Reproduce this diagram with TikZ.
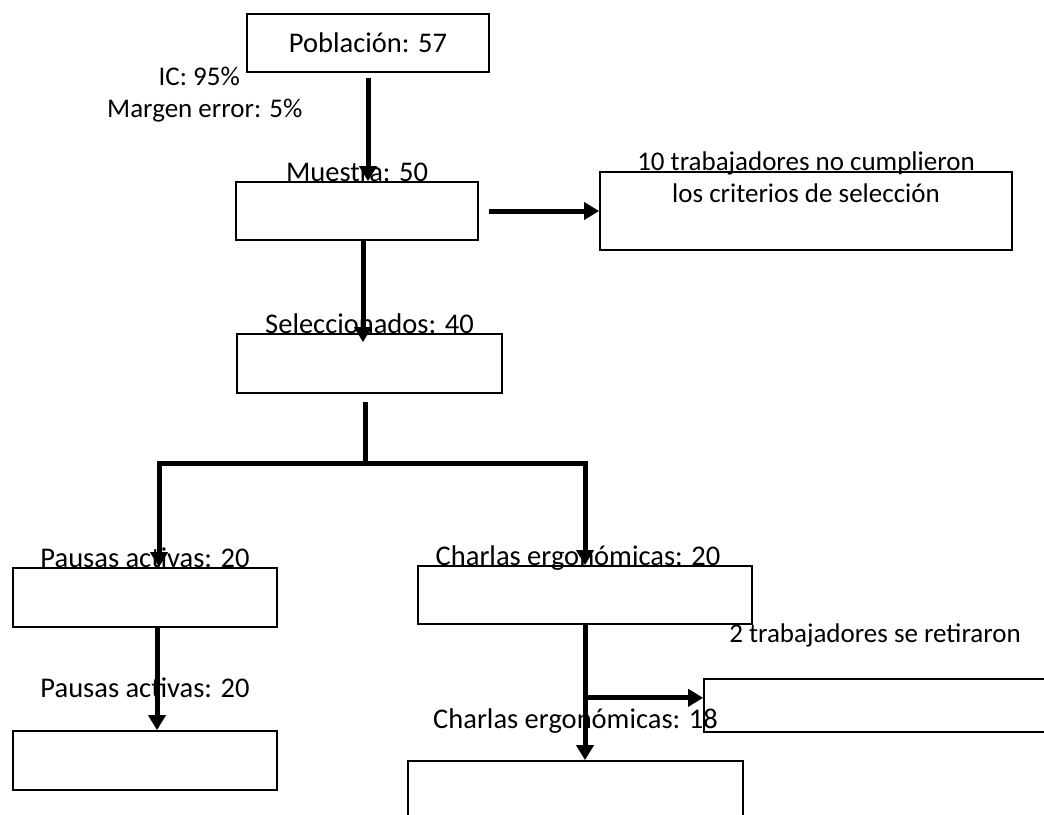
\documentclass[tikz,border=0pt]{standalone}
\usepackage{fontspec}
\setmainfont{Carlito}
\usepackage{tikz}
\usetikzlibrary{positioning, arrows.meta}
\tikzstyle{box} = [rectangle, draw=black, line width=1.7pt, inner sep=0pt, minimum width=242pt, minimum height=58pt, font=\fontsize{28.5}{34}\selectfont]
\tikzstyle{lbl} = [inner sep=0pt, font=\fontsize{28.5}{34}\selectfont]
\tikzstyle{note} = [inner sep=0pt, font=\fontsize{27}{32}\selectfont]
\tikzstyle{line} = [line width=5pt]
\tikzstyle{arrow} = [line width=5pt, -{Triangle[length=15pt, width=17pt]}]

\begin{document}
\begin{tikzpicture}[x=1pt, y=-1pt]
\clip (0,0) rectangle (1044,814);
\node (pob) [box] at (368,43) {Población: 57};
\node (ic) [note, anchor=base east] at (240,85) {IC: 95\%};
\node (err) [note, anchor=base west] at (107,117) {Margen error: 5\%};
\node (mue) [box] at (357,211) {};
\node (mueT) [lbl, above=0pt of mue, anchor=base] {Muestra: 50};
\node (cri) [box, minimum width=412pt, minimum height=78pt] at (806,211) {};
\node (criT) [note, align=center] at (806,177) {10 trabajadores no cumplieron\\los criterios de selección};
\node (sel) [box, minimum width=265pt, minimum height=59pt] at (369.5,363.5) {};
\node (selT) [lbl, above=0pt of sel, anchor=base] {Seleccionados: 40};
\node (pau) [box, minimum width=264pt, minimum height=59pt] at (145,597.5) {};
\node (pauT) [lbl, above=0pt of pau, anchor=base] {Pausas activas: 20};
\node (pau2) [box, minimum width=264pt, minimum height=59pt] at (145,760.5) {};
\node (pau2T) [lbl, above=33pt of pau2, anchor=base] {Pausas activas: 20};
\node (cha) [box, minimum width=334pt] at (585,595) {};
\node (chaT) [lbl, above=0pt of cha, anchor=base, xshift=-7pt] {Charlas ergonómicas: 20};
\node (ret) [box, minimum width=342pt, minimum height=53pt] at (875,705.5) {};
\node (retT) [note, above=36pt of ret, anchor=base] {2 trabajadores se retiraron};
\node (cha2) [box, minimum width=335pt, minimum height=59pt] at (575.5,790.5) {};
\node (cha2T) [lbl, above=32pt of cha2, anchor=base] {Charlas ergonómicas: 18};
% connectors
\draw [arrow, shorten <=5pt] (pob) -- (pob |- mue.north);
\draw [arrow, shorten <=10pt] (mue) -- (cri);
\draw [arrow, shorten >=-9pt] ([xshift=6pt]mue.south) -- ([xshift=6pt]mue.south |- sel.north);
\draw [line, shorten <=8pt] ([xshift=-4pt]sel.south) -- ++(0,70) coordinate (split);
\draw [arrow] (split) -| ([xshift=14pt]pau.north);
\draw [arrow] (split) -| (cha.north);
\draw [arrow] ([xshift=12pt]pau.south) -- ([xshift=12pt]pau2.north);
\coordinate (drop) at ([yshift=-73pt]cha.south);
\draw [arrow] (cha) -- (cha |- cha2.north);
\draw [arrow] (drop) -- (drop -| ret.west);
\end{tikzpicture}
\end{document}
